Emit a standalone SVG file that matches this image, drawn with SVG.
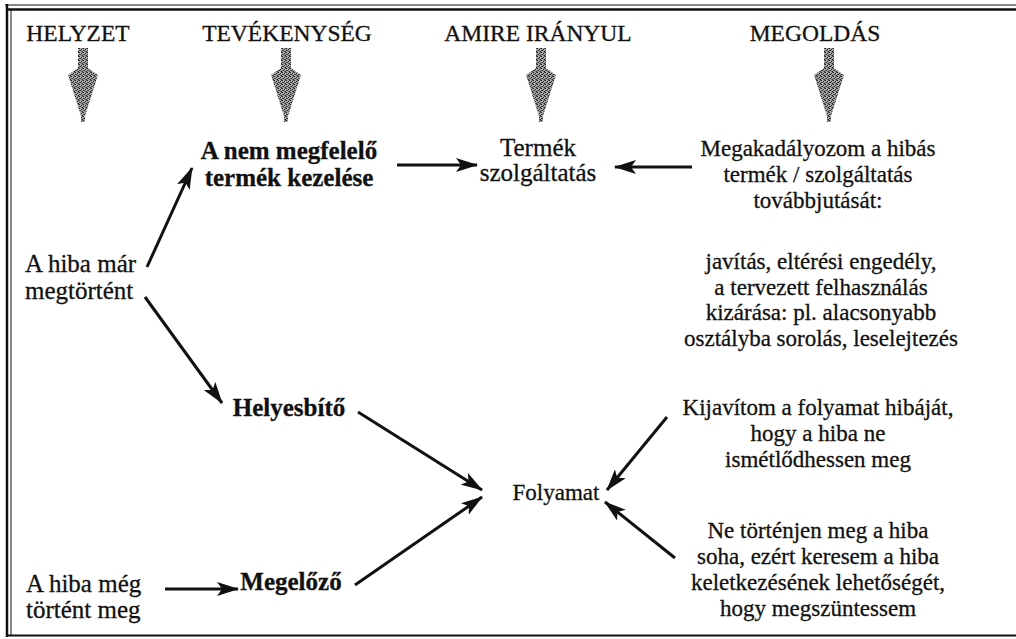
<svg xmlns="http://www.w3.org/2000/svg" width="1016" height="639" viewBox="0 0 1016 639">
<style>
text{font-family:"Liberation Serif","Times New Roman",serif;fill:#111;stroke:#111;stroke-width:0.3;font-size:25px}
.h{font-size:23.5px}
.r{font-size:23px}
.b{font-weight:bold;font-size:25px}
.c{text-anchor:middle}
.conn line{stroke:#111;stroke-width:3;marker-end:url(#ah)}
.frame line{stroke:#111}
.garrow{fill:url(#stip)}
</style>
<defs>
<pattern id="stip" width="4" height="4" patternUnits="userSpaceOnUse">
<rect width="4" height="4" fill="#aaa"/>
<rect x="0" y="0" width="1" height="1" fill="#222"/>
<rect x="2" y="1" width="1" height="1" fill="#222"/>
<rect x="1" y="2" width="1" height="1" fill="#333"/>
<rect x="3" y="3" width="1" height="1" fill="#222"/>
<rect x="3" y="0" width="1" height="1" fill="#555"/>
<rect x="0" y="2" width="1" height="1" fill="#444"/>
<rect x="2" y="3" width="1" height="1" fill="#666"/>
</pattern>
<marker id="ah" viewBox="0 0 22 14" refX="21" refY="7" markerWidth="22" markerHeight="14" markerUnits="userSpaceOnUse" orient="auto">
<path d="M0,0 L22,7 L0,14 L5,7 Z" fill="#111"/>
</marker>
<path id="ga" d="M-5,48 L5,48 L5,68 L15,75 L2,116 L2,122 L-2,122 L-2,116 L-15,75 L-5,68 Z"/>
</defs>
<rect width="1016" height="639" fill="#fff"/>
<g class="frame">
<line x1="7" y1="4" x2="7" y2="637" stroke-width="2.5"/>
<line x1="11" y1="10" x2="11" y2="636" stroke-width="1"/>
<line x1="5" y1="5" x2="1016" y2="5" stroke-width="1"/>
<line x1="7" y1="9.5" x2="1016" y2="9.5" stroke-width="2.5"/>
<line x1="7" y1="635.5" x2="1016" y2="635.5" stroke-width="2"/>
</g>
<g id="headers">
<text class="h c" x="78" y="41">HELYZET</text>
<text class="h c" x="287" y="41">TEVÉKENYSÉG</text>
<text class="h c" x="538" y="41">AMIRE IRÁNYUL</text>
<text class="h c" x="815" y="41">MEGOLDÁS</text>
</g>
<g id="grey-arrows">
<use href="#ga" class="garrow" x="83" y="0"/>
<use href="#ga" class="garrow" x="286" y="0"/>
<use href="#ga" class="garrow" x="541" y="0"/>
<use href="#ga" class="garrow" x="829" y="0"/>
</g>
<g id="node-nem-megfelelo">
<text class="b c" x="289" y="159">A nem megfelelő</text>
<text class="b c" x="289" y="186">termék kezelése</text>
</g>
<g id="node-termek">
<text class="c" x="538" y="156">Termék</text>
<text class="c" x="538" y="181">szolgáltatás</text>
</g>
<g id="node-megakadalyozom">
<text class="r c" x="818" y="156">Megakadályozom a hibás</text>
<text class="r c" x="818" y="182">termék / szolgáltatás</text>
<text class="r c" x="818" y="208">továbbjutását:</text>
<text class="r c" x="821" y="269">javítás, eltérési engedély,</text>
<text class="r c" x="821" y="295">a tervezett felhasználás</text>
<text class="r c" x="821" y="320">kizárása: pl. alacsonyabb</text>
<text class="r c" x="821" y="346">osztályba sorolás, leselejtezés</text>
</g>
<g id="node-hiba-mar">
<text x="25" y="272">A hiba már</text>
<text x="25" y="299">megtörtént</text>
</g>
<g id="node-helyesbito">
<text class="b c" x="289" y="416">Helyesbítő</text>
</g>
<g id="node-kijavitom">
<text class="r c" x="818" y="415">Kijavítom a folyamat hibáját,</text>
<text class="r c" x="818" y="441">hogy a hiba ne</text>
<text class="r c" x="818" y="467">ismétlődhessen meg</text>
</g>
<g id="node-folyamat">
<text class="r c" x="556" y="500">Folyamat</text>
</g>
<g id="node-ne-tortenjen">
<text class="r c" x="818" y="538">Ne történjen meg a hiba</text>
<text class="r c" x="818" y="564">soha, ezért keresem a hiba</text>
<text class="r c" x="818" y="590">keletkezésének lehetőségét,</text>
<text class="r c" x="818" y="616">hogy megszüntessem</text>
</g>
<g id="node-hiba-meg">
<text x="26" y="592">A hiba még</text>
<text x="26" y="618">történt meg</text>
</g>
<g id="node-megelozo">
<text class="b c" x="291" y="590">Megelőző</text>
</g>
<g id="connectors" class="conn">
<line x1="147" y1="267" x2="192" y2="168"/>
<line x1="145" y1="297" x2="222" y2="403"/>
<line x1="358" y1="412" x2="482" y2="490"/>
<line x1="355" y1="585" x2="482" y2="497"/>
<line x1="165" y1="589" x2="238" y2="589"/>
<line x1="397" y1="165" x2="477" y2="165"/>
<line x1="692" y1="167" x2="615" y2="167"/>
<line x1="667" y1="417" x2="607" y2="490"/>
<line x1="675" y1="558" x2="605" y2="502"/>
</g>
</svg>
